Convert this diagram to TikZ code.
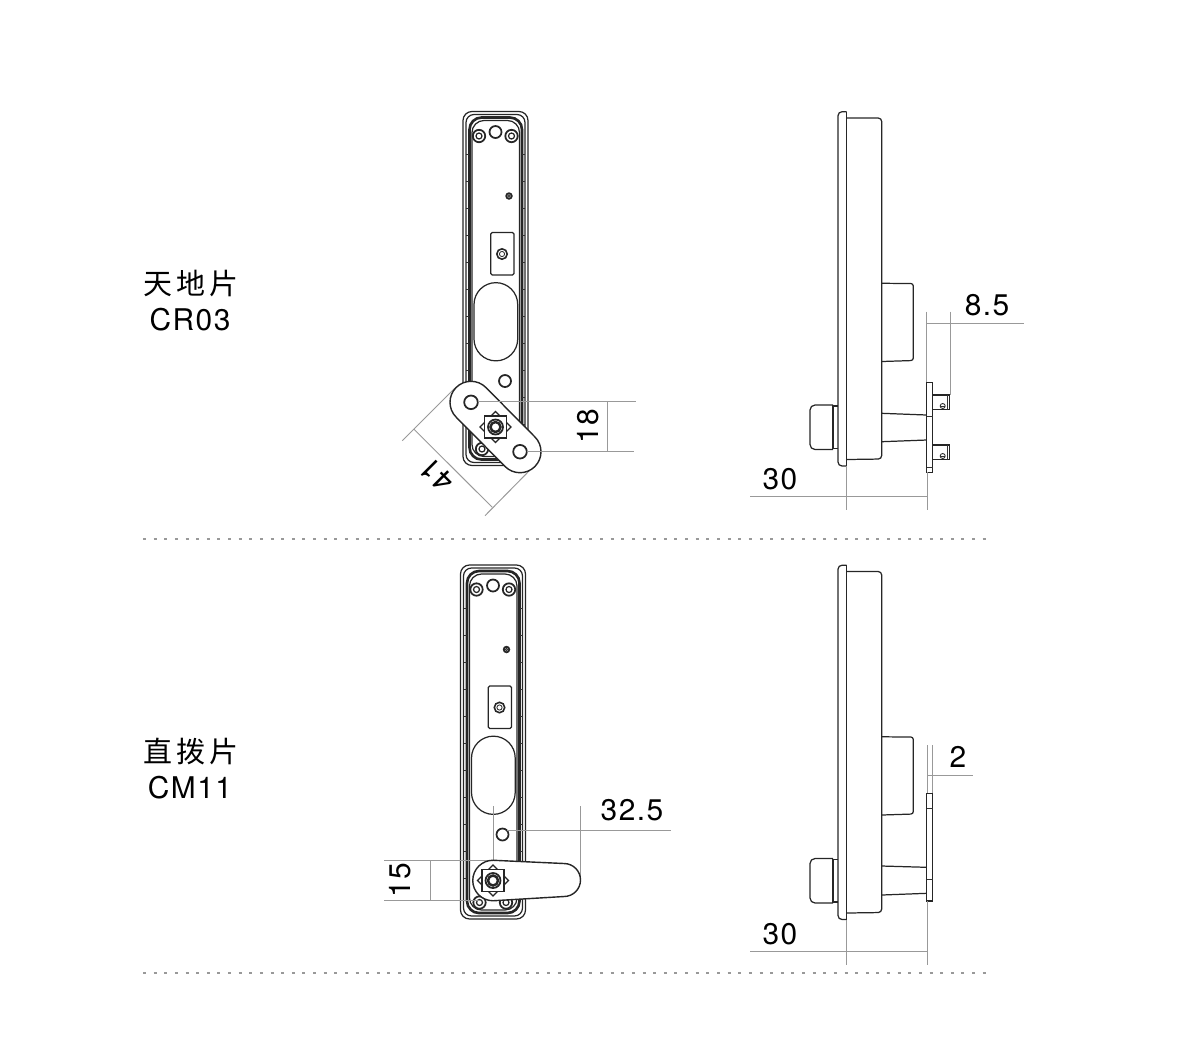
\documentclass[tikz,border=0pt]{standalone}
\usepackage{fontspec}
\setmainfont[LetterSpace=5]{TeX Gyre Heros}
\newfontfamily\cjk[LetterSpace=13]{Noto Sans CJK SC}
\definecolor{dimgray}{gray}{0.6}
\tikzset{
	part/.style={line width=0.7pt,black!85},
	thinpart/.style={line width=0.5pt,black!80},
	dimline/.style={line width=0.55pt,dimgray},
	sepline/.style={line width=0.9pt,dimgray,dash pattern=on 1.7pt off 4.35pt},
	dimtext/.style={font=\fontsize{17}{17}\selectfont,inner sep=0pt},
	nametext/.style={font=\fontsize{17}{17}\selectfont,inner sep=0pt},
	cjktext/.style={font=\cjk\fontsize{16.5}{16.5}\selectfont,inner sep=0pt},
	leverfill/.style={part,line width=0.8pt,fill=white},
	screw/.pic={\draw[part,line width=1pt] (0,0) circle(6.2); \draw[part] (0,0) circle(3);},
	hole/.pic={\draw[part,line width=1pt] (0,0) circle(6);},
	drive/.pic={
		\draw[part,fill=white] (-15.5,0) -- (0,-15.5) -- (15.5,0) -- (0,15.5) -- cycle;
		\draw[part,line width=1pt,fill=white] (-11,-11) rectangle (11,11);
		\draw[part,line width=1pt] (0,0) circle(7.5); \draw[part,line width=1.4pt] (0,0) circle(5);
	},
	% rueckseite, ursprung links oben am gehaeuse
	frontpanel/.pic={
		\draw[part,rounded corners=0.18cm] (0,0) rectangle (65,354);
		\draw[part,rounded corners=0.16cm] (3,3) rectangle (62,351);
		\draw[part,line width=1.5pt,rounded corners=0.24cm] (6.5,6) rectangle (59,348);
		\draw[part,rounded corners=0.24cm] (9,9) rectangle (56.5,345);
		\foreach \tickY in {43,70,97,124,151,178,205,232,259,286,313}{
			\draw[thinpart] (3,\tickY) -- (6,\tickY); \draw[thinpart] (59,\tickY) -- (62,\tickY);
		}
		\pic at (16,24.5) {screw}; \pic at (48.5,24.5) {screw};
		\pic at (32.5,20.5) {hole};
		\draw[part,line width=1pt] (46,84.5) circle(2.8); \draw[thinpart] (46,84.5) circle(1.2);
		\draw[part,rounded corners=0.03cm] (27.7,121) rectangle (51,163.5);
		\draw[part,line width=0.9pt] (39,142.5) circle(5.2); \draw[thinpart] (39,142.5) circle(2.6);
		\draw[part] (11,193) arc(180:360:21.85) -- (54.7,227.5) arc(0:180:21.85) -- cycle;
		\pic at (42,269.5) {hole};
		\pic at (19,337.5) {screw}; \pic at (45.5,337.5) {screw};
	},
	% seitenansicht ohne beschlag
	sideview/.pic={
		\draw[part,rounded corners=0.08cm] (846.5,111.7) -- (838,111.7) -- (838,466) -- (846.5,466);
		\draw[part] (846.5,111.7) -- (846.5,466);
		\draw[part,rounded corners=0.07cm] (846.5,118) -- (881.7,118) -- (881.7,459) -- (846.5,459.5);
		\draw[part,rounded corners=0.05cm] (881.7,283.3) -- (913.3,283.5) -- (913.3,360.5) -- (881.7,361.5);
		\draw[part] (838,406) -- (833,406) -- (833,448.5) -- (838,448.5);
		\draw[part,rounded corners=0.1cm] (833,405) -- (810,405) -- (810,449.5) -- (833,449.5);
	},
	pinend/.pic={
		\draw[part] (0,0) -- (17,0) -- (17,14.5) -- (0,14.5);
		\draw[thinpart] (15,0) -- (15,14.5);
		\draw[thinpart] (10,11) circle(2.5); \draw[thinpart] (7.5,11) -- (12.5,11);
	},
}
\begin{document}
\begin{tikzpicture}[x=0.02cm,y=-0.02cm]
	\useasboundingbox (0,0) rectangle (1183,1063);
	\node[cjktext] (cat1) at (191,284) {天地片};
	\node[nametext] (code1) at (190,320) {CR03};
	\node[cjktext] (cat2) at (191,752) {直拨片};
	\node[nametext] (code2) at (190,788) {CM11};
	
	\draw[sepline] (143,539) -- (988,539);
	\draw[sepline] (143,973) -- (988,973);
	
	%oben vorne
	\pic at (463,111.5) {frontpanel};
	\draw[dimline] (402.3,440.7) -- (455,388); \draw[dimline] (485,515.7) -- (530,470); \draw[dimline] (414,429.3) -- (492.3,507.3);
	\draw[leverfill] (485.85,387.45) arc(-45:-225:21) -- (505.15,466.55) arc(135:-45:21) -- cycle;
	\draw[part,line width=1pt] (471,402.3) circle(6.8); \draw[part,line width=1pt] (520,451.7) circle(6.8);
	\draw[dimline] (478,401) -- (636,401); \draw[dimline] (527,451.7) -- (634,451.7); \draw[dimline] (607,401) -- (607,451.7);
	\pic at (495.5,427) {drive};
	\node[dimtext,rotate=90] (dimA) at (588,426) {18};
	\node[dimtext,rotate=135] (dimB) at (437,475) {41};
	
	%oben seite
	\pic at (0,0) {sideview};
	\draw[part] (881.7,413.3) -- (926.7,415); \draw[part] (881.7,441.7) -- (926.7,440);
	\draw[part] (926.7,382.3) rectangle (932.7,472.3);
	\draw[thinpart] (926.7,416.7) -- (932.7,416.7); \draw[thinpart] (926.7,467) -- (932.7,467);
	\pic at (932.7,395) {pinend}; \pic at (932.7,445) {pinend};
	\draw[dimline] (926.5,311.7) -- (926.5,382); \draw[dimline] (950.5,311.7) -- (950.5,395); \draw[dimline] (926.5,323.3) -- (1024,323.3);
	\draw[dimline] (750,496) -- (927,496); \draw[dimline] (846.5,466) -- (846.5,509.5); \draw[dimline] (927,472.3) -- (927,509.5);
	\node[dimtext] (dimC) at (987,305) {8.5};
	\node[dimtext] (dimD) at (780,479) {30};
	
	%unten vorne
	\pic at (460.5,565) {frontpanel};
	\draw[dimline] (384,860) -- (493,860); \draw[dimline] (384,900.5) -- (480,900.5); \draw[dimline] (430,860) -- (430,900.5);
	\draw[dimline] (493,806) -- (493,860); \draw[dimline] (580.5,806) -- (580.5,880); \draw[dimline] (507,830.7) -- (671,830.7);
	\draw[leverfill] (493,860.25) -- (564,863.5) arc(-90:90:16.5) -- (493,900.75) arc(90:270:20.25) -- cycle;
	\pic at (493,880.5) {drive};
	\node[dimtext,rotate=90] (dimE) at (400,880.5) {15};
	\node[dimtext] (dimF) at (632,810) {32.5};
	
	%unten seite
	\begin{scope}[yshift=-453.5*0.02cm]
	\pic at (0,0) {sideview};
	\end{scope}
	\draw[part] (881.7,866) -- (926.7,867.3); \draw[part] (881.7,895) -- (926.7,893.3);
	\draw[part] (926.7,793.3) rectangle (932.7,901);
	\draw[thinpart] (926.7,808.3) -- (932.7,808.3); \draw[thinpart] (926.7,879.3) -- (932.7,879.3);
	\draw[dimline] (927,745) -- (927,793.3); \draw[dimline] (932.3,745) -- (932.3,793.3); \draw[dimline] (927,775) -- (973,775);
	\draw[dimline] (750,951.7) -- (927,951.7); \draw[dimline] (846.5,920) -- (846.5,965); \draw[dimline] (927,901) -- (927,965);
	\node[dimtext] (dimG) at (958,757) {2};
	\node[dimtext] (dimH) at (780,934) {30};
\end{tikzpicture}
\end{document}
